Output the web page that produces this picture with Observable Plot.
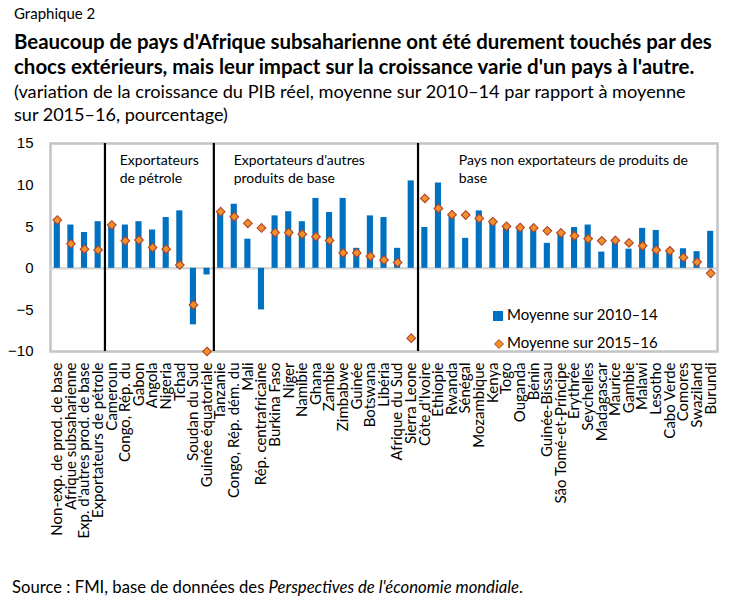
<!DOCTYPE html>
<html><head><meta charset="utf-8">
<script src="https://cdn.jsdelivr.net/npm/d3@7"></script>
<script src="https://cdn.jsdelivr.net/npm/@observablehq/plot@0.6"></script>
<style>
body{margin:0;background:#fff;font-family:Lato,sans-serif;color:#000;}
#wrap{position:relative;width:734px;height:602px;overflow:hidden;}
.t{position:absolute;left:14px;white-space:nowrap;line-height:1;}
#chart{position:absolute;left:0;top:130px;}
.leg{position:absolute;font-size:15px;white-space:nowrap;line-height:1;}
</style></head><body>
<div id="wrap">
<div class="t" style="top:6px;font-size:15px">Graphique 2</div>
<div class="t fit" data-w="698" style="top:31px;font-size:18px;font-weight:bold">Beaucoup de pays d'Afrique subsaharienne ont été durement touchés par des</div>
<div class="t fit" data-w="681" style="top:56px;font-size:18px;font-weight:bold">chocs extérieurs, mais leur impact sur la croissance varie d'un pays à l'autre.</div>
<div class="t fit" data-w="672" style="top:82px;font-size:16px">(variation de la croissance du PIB réel, moyenne sur 2010–14 par rapport à moyenne</div>
<div class="t fit" data-w="214" style="top:105px;font-size:16px">sur 2015–16, pourcentage)</div>
<div id="chart"></div>
<div class="leg" style="left:493px;top:307px"><span style="display:inline-block;width:10px;height:10px;background:#0070c0;margin-right:4px;vertical-align:-1px"></span>Moyenne sur 2010–14</div>
<div class="leg" style="left:493px;top:335px"><svg width="12" height="12" style="vertical-align:-2px;margin-right:2px"><path d="M6,1.5L10.5,6L6,10.5L1.5,6Z" fill="#f0902a" stroke="#b3432b" stroke-width="1"/></svg>Moyenne sur 2015–16</div>
<div class="t fit" data-w="511" style="left:12px;top:579px;font-size:14.5px">Source : FMI, base de données des <i>Perspectives de l'économie mondiale</i>.</div>
</div>
<script>
const categories = [
  "Non-exp. de prod. de base","Afrique subsaharienne","Exp. d'autres prod. de base","Exportateurs de pétrole",
  "Cameroun","Congo, Rép. du","Gabon","Angola","Nigeria","Tchad","Soudan du Sud","Guinée équatoriale",
  "Tanzanie","Congo, Rép. dém. du","Mali","Rép. centrafricaine","Burkina Faso","Niger","Namibie","Ghana","Zambie","Zimbabwe","Guinée","Botswana","Libéria","Afrique du Sud","Sierra Leone",
  "Côte d'Ivoire","Éthiopie","Rwanda","Sénégal","Mozambique","Kenya","Togo","Ouganda","Bénin","Guinée-Bissau","São Tomé-et-Príncipe","Érythrée","Seychelles","Madagascar","Maurice","Gambie","Malawi","Lesotho","Cabo Verde","Comores","Swaziland","Burundi"
];
const avg2010_14 = [
  5.5,5.2,4.3,5.6,
  5.0,5.2,5.6,4.6,6.1,6.9,-6.8,-0.8,
  6.7,7.7,3.5,-5.0,6.3,6.8,5.6,8.4,6.7,8.4,2.4,6.3,6.1,2.4,10.5,
  4.9,10.25,6.5,3.6,6.9,5.8,4.9,5.0,4.9,3.0,4.3,4.9,5.2,1.95,3.4,2.3,4.8,4.55,2.0,2.35,2.0,4.45
];
const avg2015_16 = [
  5.8,2.95,2.3,2.2,
  5.2,3.3,3.4,2.5,2.3,0.4,-4.4,-10.0,
  6.8,6.2,5.4,4.85,4.3,4.3,4.1,3.8,3.35,1.85,1.85,1.45,1.0,0.7,-8.4,
  8.4,7.2,6.45,6.4,6.0,5.6,5.05,4.9,4.85,4.5,4.25,3.9,3.55,3.3,3.35,3.05,2.7,2.2,2.1,1.3,0.75,-0.6
];
const yTicks = [-10,-5,0,5,10,15];
const groupStarts = ["Cameroun","Tanzanie","Côte d'Ivoire"];
const groupLabels = ["Exportateurs\nde pétrole","Exportateurs d'autres\nproduits de base","Pays non exportateurs de produits de\nbase"];
const groupLabelDx = [8,13,34];

const data = categories.map((c,i)=>({c, a:avg2010_14[i], b:avg2015_16[i]}));
const annots = groupStarts.map((c,i)=>({c, label:groupLabels[i], dx:groupLabelDx[i]}));

const ML=50, MR=17, MT=13, PH=208, MB=200, W=734;
const step = (W-ML-MR)/categories.length;

const chart = Plot.plot({
  width: W, height: MT+PH+MB,
  marginLeft: ML, marginRight: MR, marginTop: MT, marginBottom: MB,
  style: {fontFamily:"Lato, sans-serif", fontSize:"15px", color:"#000", background:"transparent", overflow:"visible"},
  x: {type:"band", domain:categories, paddingInner:0.55, paddingOuter:0.275, round:false, label:null},
  y: {domain:[-10,15], label:null},
  marks: [
    Plot.frame({stroke:"#c4c4c4", strokeWidth:2.5}),
    Plot.ruleY([0], {stroke:"#d6d6d6", strokeWidth:2.5}),
    Plot.barY(data, {x:"c", y:"a", fill:"#0070c0"}),
    Plot.ruleX(groupStarts, {dx:-step/2, stroke:"#000", strokeWidth:2.2}),
    Plot.dot(data, {x:"c", y:"b", symbol:"diamond2", r:3.9, fill:"#f0902a", stroke:"#b3432b", strokeWidth:1.1}),
    ...annots.map(a => Plot.text([a], {x:"c", y:14, text:"label", dx:a.dx, textAnchor:"start", lineAnchor:"top", lineHeight:1.3, fontSize:14, fill:"#000"})),
    Plot.axisX({tickRotate:-90, tickSize:0, tickPadding:11, fontSize:15, label:null}),
    Plot.axisY({ticks:yTicks, tickSize:0, tickPadding:17, fontSize:15, fontFamily:"Liberation Sans, Arial, sans-serif", label:null})
  ]
});
document.getElementById("chart").appendChild(chart);

document.querySelectorAll(".fit").forEach(el=>{
  const target = +el.dataset.w;
  const fs = parseFloat(el.style.fontSize);
  const w = el.getBoundingClientRect().width;
  if (w>0) el.style.fontSize = (fs*target/w).toFixed(2)+"px";
});
</script>
</body></html>
